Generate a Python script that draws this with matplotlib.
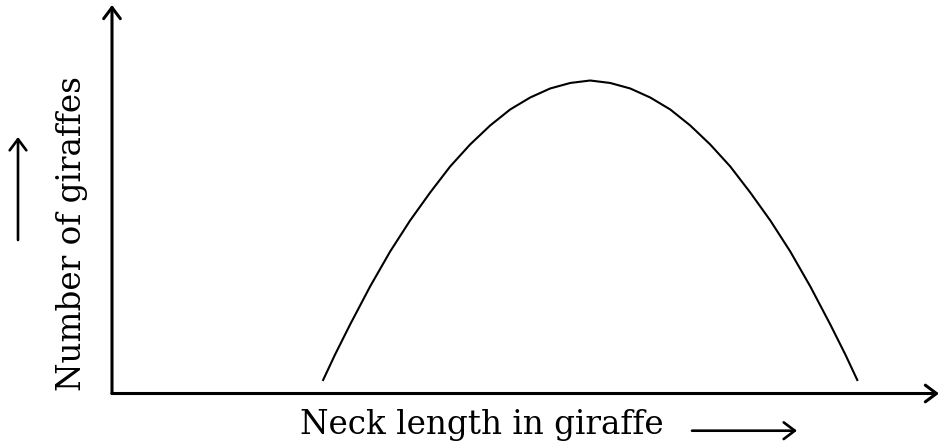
import matplotlib
matplotlib.use("Agg")
import matplotlib.pyplot as plt

# Data (arbitrary units: neck length vs number of giraffes)
neck_length = [25.58, 27.03, 28.85, 31.27, 33.70, 36.12, 38.55, 40.97, 43.39, 45.82,
               48.24, 50.67, 53.09, 55.52, 57.94, 60.36, 62.79, 65.21, 67.64, 70.06,
               72.48, 74.91, 77.33, 79.76, 82.18, 84.61, 87.03, 88.85, 90.30]
giraffes = [3.50, 10.12, 17.90, 27.76, 36.84, 44.89, 52.15, 58.90, 64.61, 69.54,
            73.69, 76.80, 79.14, 80.57, 81.21, 80.57, 79.14, 76.80, 73.69, 69.54,
            64.61, 58.90, 52.15, 44.89, 36.84, 27.76, 17.90, 10.12, 3.50]

x_label = "Neck length in giraffe"
y_label = "Number of giraffes"

W, H = 939, 446
fig = plt.figure(figsize=(W / 100, H / 100), dpi=100)
ax = fig.add_axes([112 / W, 52.5 / H, (W - 112) / W, (441 - 52.5) / H])
ax.set_xlim(0, 100.2)
ax.set_ylim(0, 100.8)
ax.set_axis_off()

ax.plot(neck_length, giraffes, color="black", lw=1.5, solid_joinstyle="round")

axis_arrow = dict(arrowstyle="->,head_length=0.4,head_width=0.3", lw=2.2,
                  color="black", shrinkA=0, shrinkB=0, mutation_scale=20)
ax.annotate("", xy=(0, 1), xytext=(0, 0), xycoords="axes fraction",
            textcoords="axes fraction", arrowprops=axis_arrow)
ax.annotate("", xy=(1, 0), xytext=(0, 0), xycoords="axes fraction",
            textcoords="axes fraction", arrowprops=axis_arrow)

font = dict(family="DejaVu Serif", fontsize=23.5, color="black")
fig.text(300 / W, (H - 434) / H, x_label, ha="left", va="baseline", **font)
fig.text(88 / W, (H - 234) / H, y_label, rotation=90, ha="right", va="center", **font)

small_arrow = dict(arrowstyle="->,head_length=0.4,head_width=0.3", lw=1.9,
                   color="black", shrinkA=0, shrinkB=0, mutation_scale=20)
fig.add_artist(plt.Annotation("", xy=(797, H - 430.7), xytext=(692, H - 430.7),
                              xycoords="figure pixels", textcoords="figure pixels",
                              arrowprops=small_arrow))
fig.add_artist(plt.Annotation("", xy=(18, H - 137), xytext=(18, H - 240),
                              xycoords="figure pixels", textcoords="figure pixels",
                              arrowprops=small_arrow))

fig.savefig("out.png", dpi=100, facecolor="white")
